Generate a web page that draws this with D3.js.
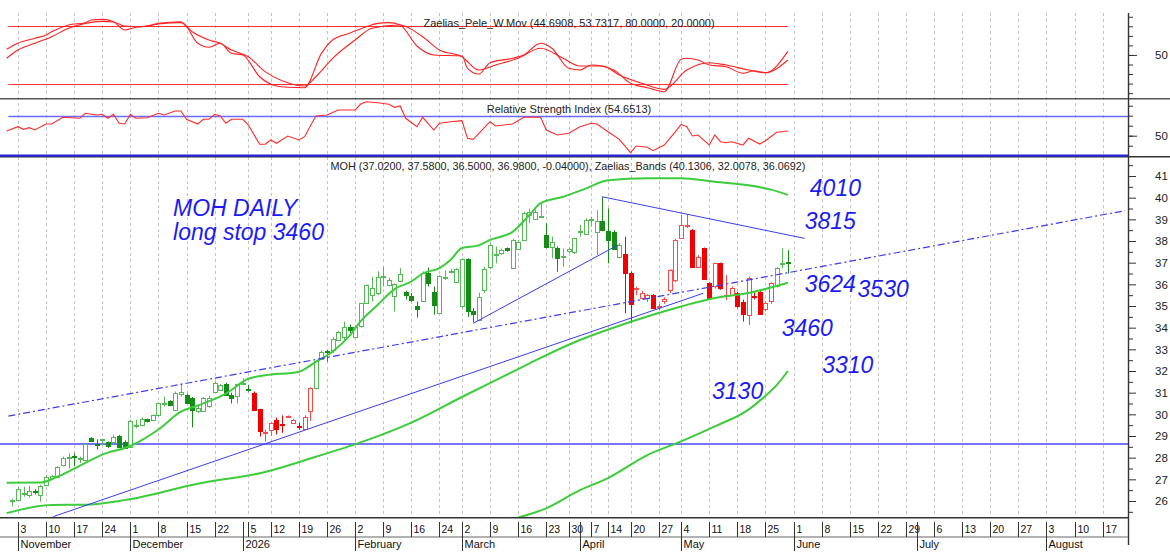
<!DOCTYPE html>
<html>
<head>
<meta charset="utf-8">
<script src="https://cdn.jsdelivr.net/npm/d3@7"></script>
<style>
  body { margin: 0; background: #fff; }
  svg { display: block; }
  text { font-family: "Liberation Sans", Arial, sans-serif; }
</style>
</head>
<body>
<div id="chart"></div>
<script>
// daily bars, index 0 = Oct 31 ... 138 = May 29
const opens  = [26.00,26.05,26.30,26.28,26.45,26.28,26.74,27.05,27.12,27.66,28.00,28.10,27.95,27.90,28.93,28.65,28.80,28.71,28.74,29.00,
  28.74,28.51,29.45,29.50,29.77,29.74,29.97,30.50,30.61,30.20,30.97,30.89,30.74,30.15,30.12,30.36,31.05,31.13,31.38,30.90,
  30.82,31.42,31.15,31.00,30.23,29.15,29.30,29.76,29.55,29.88,29.60,29.48,29.35,30.12,31.20,32.58,32.92,32.97,33.43,33.58,
  34.05,33.60,34.04,35.12,35.55,35.58,36.33,35.97,35.46,36.15,35.66,35.48,35.00,35.23,36.51,35.63,34.69,36.30,36.58,36.12,
  34.97,37.15,34.75,34.35,35.74,36.81,37.37,37.43,37.66,36.74,37.66,38.05,39.20,39.05,39.10,38.28,37.74,37.69,37.27,37.51,
  37.46,38.42,38.32,38.95,38.43,38.92,38.46,38.43,37.28,37.39,36.54,35.80,35.41,35.36,35.50,34.95,35.20,35.74,36.20,38.12,
  38.72,38.51,36.81,37.66,36.05,35.89,36.97,35.48,35.51,35.59,35.20,34.59,35.45,35.66,34.82,35.20,35.92,36.95,37.02];
const highs  = [26.10,26.66,26.66,26.70,26.55,26.75,27.20,27.20,27.60,28.05,28.20,28.20,28.05,28.65,28.95,28.85,28.87,28.75,29.05,29.05,
  28.80,29.75,29.75,29.85,29.80,30.00,30.55,30.82,30.65,31.05,31.43,30.95,30.80,30.43,30.80,30.85,31.50,31.40,31.45,31.00,
  31.40,31.66,31.36,31.05,30.25,29.30,29.62,29.85,29.95,29.95,29.80,29.60,29.95,31.25,32.50,32.95,32.97,33.58,33.85,34.28,
  34.15,34.10,35.15,36.00,36.35,36.60,36.80,36.30,36.05,36.75,35.70,35.60,35.20,36.60,36.78,35.90,36.42,36.64,36.72,36.75,
  37.20,37.20,34.90,35.62,36.80,37.90,37.74,37.65,37.70,38.10,38.05,39.35,39.50,39.45,39.74,38.82,38.20,37.75,37.66,37.70,
  38.15,38.74,39.05,39.12,39.43,40.05,39.50,38.50,37.90,38.20,36.60,35.90,35.70,35.55,35.55,35.10,35.40,36.70,38.10,39.20,
  39.20,38.55,37.35,37.70,36.10,37.00,37.00,36.43,35.90,35.65,35.30,36.35,35.60,35.75,35.20,36.10,36.80,37.66,37.58];
const lows   = [25.75,26.00,26.20,26.15,26.30,25.97,26.70,27.00,27.10,27.60,27.50,27.60,27.75,27.88,28.75,28.38,28.60,28.45,28.70,28.45,
  28.45,28.50,29.35,29.45,29.62,29.70,29.95,30.36,30.40,30.15,30.82,30.50,29.40,30.05,30.10,30.30,31.00,31.10,30.85,30.50,
  30.50,31.35,31.05,30.20,28.97,28.75,29.00,29.07,29.15,29.85,29.55,29.30,29.30,29.70,31.15,32.50,32.43,32.82,33.40,33.35,
  33.75,33.55,34.00,35.10,35.20,35.50,35.90,35.90,34.75,36.10,35.30,35.20,34.46,35.20,35.90,34.60,34.65,36.20,36.50,36.10,
  34.90,34.50,34.25,34.30,35.60,36.70,36.97,37.35,37.50,36.70,37.60,38.00,38.82,39.00,39.05,37.66,37.20,36.58,36.81,37.45,
  37.40,38.20,38.30,38.66,37.35,38.45,36.97,37.60,37.20,34.66,34.20,35.50,35.30,35.20,34.85,34.80,35.10,35.60,36.10,38.10,
  38.60,36.75,36.75,36.20,35.30,35.80,35.75,35.28,35.45,34.90,34.28,34.12,35.30,34.60,34.75,35.10,35.85,36.74,36.50];
const closes = [26.05,26.55,26.35,26.48,26.40,26.70,27.12,27.15,27.58,27.97,28.05,28.05,28.00,28.63,28.77,28.62,28.85,28.51,28.97,28.51,
  28.48,29.71,29.50,29.77,29.66,29.97,30.51,30.52,30.43,31.00,31.05,30.51,30.20,30.28,30.74,30.74,31.46,31.35,30.89,30.78,
  31.38,31.45,31.10,30.23,29.20,29.18,29.60,29.35,29.50,29.92,29.74,29.45,29.90,31.20,32.45,32.90,32.88,33.46,33.81,34.02,
  33.90,34.05,35.12,35.97,35.85,36.32,36.37,36.22,36.00,36.46,35.54,35.28,34.86,36.54,36.05,35.05,36.39,36.35,36.62,36.70,
  37.15,34.74,34.60,35.43,36.70,37.82,37.41,37.58,37.55,38.05,37.97,39.28,39.32,39.35,39.14,37.74,37.97,37.25,37.30,37.62,
  38.12,38.45,38.97,39.00,38.92,38.51,38.05,37.66,37.82,36.51,35.12,35.84,35.62,35.50,34.90,35.00,35.31,36.66,38.05,38.74,
  38.76,36.81,37.28,36.25,35.36,36.97,35.82,35.52,35.82,34.97,34.66,36.28,35.40,34.66,35.12,36.05,36.74,37.00,36.98];
// bars drawn in the red trend colour
const redRuns = [[43, 53], [109, 135]];

// Zaelias bands: [bar, value]
const bandUpper = [[-1,26.84],[5,26.85],[8,27.12],[13,27.76],[16,28.14],[21,28.54],[26,29.3],[30,30.12],[33,30.41],[38,30.96],
  [42,31.64],[45,31.8],[51,31.97],[54,32.42],[57,32.9],[60,33.62],[62,34.3],[65,35.05],[68,35.78],[71,36.13],[73,36.5],
  [76,36.75],[78,37.14],[80,37.68],[83,37.8],[85,38.05],[89,38.42],[92,39.2],[94,39.75],[98,40.04],[102,40.42],[106,40.8],
  [113,40.9],[119,40.9],[125,40.73],[131,40.57],[135,40.37],[138,40.13]];
const bandMiddle = [[-1,25.44],[7,25.82],[13,25.83],[20,26.04],[33,26.8],[45,27.34],[54,28.04],[63,28.8],[71,29.62],[80,30.8],
  [89,31.96],[93,32.48],[101,33.43],[109,34.18],[119,34.98],[125,35.37],[131,35.6],[138,36.07]];
const bandLower = [[88,25.05],[90,25.23],[95,25.66],[101,26.5],[106,27.06],[113,28.12],[119,28.75],[125,29.44],[131,30.22],
  [134,30.85],[136,31.35],[138,32.0]];

// Zaelias_Pele_W.Mov
const wmovFast = [[-1,55.9],[1,62.2],[4,67.4],[6,70.9],[7,74.3],[10,81.4],[13,83.8],[14,86.6],[16,87.3],[18,84.8],[20,76.1],
  [22,79],[24,80.3],[26,83.1],[30,84.8],[31,79.6],[33,62.2],[35,58],[37,62.2],[39,51.7],[41,50],[44,27.2],[47,17.5],[49,16.1],
  [52,15.7],[55,51.7],[57,65.7],[60,72.7],[63,79.6],[65,83.1],[67,83.8],[69,81.4],[72,59.4],[75,50],[80,48.9],[81,36],[83,30],
  [85,41.9],[89,46.5],[91,50],[94,62.2],[96,57],[99,36],[101,34.2],[103,39.5],[107,34.2],[110,20.3],[113,15.7],[116,11.5],
  [119,45.4],[120,46.5],[122,44.7],[124,39.5],[127,37.7],[130,30.8],[132,33.5],[134,31.4],[138,53.73]];
const wmovSlow = [[-1,46.5],[1,55.2],[4,62.2],[7,69.1],[10,77.9],[13,83.1],[16,85.2],[18,84.5],[20,80.3],[23,79.6],[26,82.4],
  [30,83.8],[32,74.3],[35,65.7],[37,62.2],[39,55.2],[42,48.2],[45,32.5],[49,20.9],[52,17.5],[54,27.2],[57,46.5],[61,65.7],
  [64,77.9],[69,81.4],[73,69.1],[76,55.2],[80,48.2],[83,34.2],[86,39.5],[90,46.5],[94,57],[98,46.5],[101,38.4],[105,38.4],
  [108,29],[112,20.3],[116,14],[120,34.2],[124,41.9],[127,39.5],[131,34.2],[134,31.4],[138,44.69]];
const wmovLevels = [80, 20];

// Relative Strength Index
const rsi = [[-1,54.7],[1,59],[2,56.4],[3,58],[4,55.7],[6,61.7],[7,61.7],[9,68.4],[12,67.4],[13,72.4],[15,70.7],[16,71.4],
  [17,67.4],[18,71.4],[19,62.4],[20,61.7],[21,71.4],[22,67.4],[24,68],[26,72.4],[27,70.7],[29,74.7],[30,74.7],[31,66.4],
  [33,61.7],[34,66.4],[35,66.4],[36,71.4],[37,69.7],[38,62.4],[39,66.4],[41,66.4],[42,60.7],[44,41.4],[45,41.4],[46,45.7],
  [47,42.4],[49,49.7],[51,45.7],[52,49],[54,69.7],[56,70.7],[58,75.7],[61,75.7],[62,81.7],[63,84],[65,83],[67,81.4],[68,78.4],
  [69,79.7],[70,67.4],[72,59],[73,68.4],[75,55.7],[76,62.4],[78,64],[80,65],[81,47.4],[82,46.4],[85,64],[86,59.7],[89,61.7],
  [91,68.4],[94,68.4],[95,55.7],[97,50.7],[99,52.4],[101,59],[103,62.4],[104,61.7],[106,54],[108,46.4],[110,33],[111,39.7],
  [113,38.4],[114,35],[116,40.7],[118,54],[119,61.4],[120,59],[121,49.7],[122,50.7],[124,40.7],[125,50.7],[126,44],[127,43],
  [128,44],[130,40.7],[131,47.4],[133,41.7],[134,45],[136,53.4],[138,54.65]];
const rsiLevels = [70, 30];

// hand drawn lines: [bar, price] pairs
const supportLevel = 28.63;
const trendLines = [
  { a: [7.3, 25.28], b: [122.95, 35.59], dash: false },
  { a: [82, 34.2], b: [107.8, 37.82], dash: false },
  { a: [105, 40.04], b: [141, 38.12], dash: false },
  { a: [-0.7, 29.92], b: [198, 39.4], dash: true }
];
const notes = [
  { t: "MOH DAILY", i: 28.6, p: 39.15 },
  { t: "long stop 3460", i: 28.6, p: 38.05 },
  { t: "4010", i: 141.9, p: 40.08 },
  { t: "3815", i: 141.0, p: 38.55 },
  { t: "3624", i: 141.0, p: 35.65 },
  { t: "3530", i: 150.4, p: 35.42 },
  { t: "3460", i: 136.9, p: 33.62 },
  { t: "3310", i: 144.1, p: 31.9 },
  { t: "3130", i: 124.5, p: 30.7 }
];

// date axis
const dayTickIdx = [1,6,11,16,21,26,31,36,42,46,51,56,61,66,71,76,80,85,90,95,99,103,106,110,115,119,124,129,134,
  139,144,149,154,159,164,169,174,179,184,189,194];
const dayTickLabels = ["3","10","17","24","1","8","15","22","5","12","19","26","2","9","16","24","2","9","16","23","30",
  "7","14","20","27","4","11","18","25","1","8","15","22","29","6","13","20","27","3","10","17"];
const monthIdx = [1,21,41,61,80,101,119,139,161,184];
const monthLabels = ["November","December","2026","February","March","April","May","June","July","August"];

const priceTicks = d3.range(26, 42);
const titleW = "Zaelias_Pele_W.Mov (44.6908, 53.7317, 80.0000, 20.0000)";
const titleR = "Relative Strength Index (54.6513)";
const titleP = "MOH (37.0200, 37.5800, 36.5000, 36.9800, -0.04000), Zaelias_Bands (40.1306, 32.0078, 36.0692)";

const width = 1170, height = 552;
const axisX = 1128;
const topY = 13, sep1 = 98.7, sep2 = 156.7, bottomY = 517.7;

const svg = d3.select("#chart").append("svg")
  .attr("width", width)
  .attr("height", height);

const x = d3.scaleLinear().domain([0, 138]).range([12.3, 787.9]);
const yP = d3.scaleLinear().domain([26, 41]).range([501, 176]);
const yW = d3.scaleLinear().domain([20, 80]).range([83.6, 26.3]);
const yR = d3.scaleLinear().domain([30, 70]).range([155.7, 115.7]);
const px = i => Math.round(x(i)) + 0.5;

const defs = svg.append("defs");
function clip(id, y0, y1) {
  defs.append("clipPath").attr("id", id).append("rect")
    .attr("x", 0).attr("y", y0).attr("width", axisX).attr("height", y1 - y0);
}
clip("cW", topY, sep1);
clip("cR", sep1, sep2 + 1);
clip("cP", sep2, bottomY);

// vertical grid at the week ticks
svg.append("g").selectAll("line").data(dayTickIdx).enter().append("line")
  .attr("x1", d => px(d)).attr("x2", d => px(d))
  .attr("y1", topY).attr("y2", bottomY)
  .attr("stroke", "#c4c4c4")
  .attr("stroke-dasharray", "3,3");

// ---- W.Mov panel
const gW = svg.append("g").attr("clip-path", "url(#cW)");
gW.selectAll("line").data(wmovLevels).enter().append("line")
  .attr("x1", x(-0.7)).attr("x2", x(138))
  .attr("y1", d => Math.round(yW(d)) + 0.5).attr("y2", d => Math.round(yW(d)) + 0.5)
  .attr("stroke", "#ff3030");
const lineW = d3.line().x(d => x(d[0])).y(d => yW(d[1])).curve(d3.curveMonotoneX);
[wmovSlow, wmovFast].forEach(s => {
  gW.append("path").attr("d", lineW(s))
    .attr("fill", "none").attr("stroke", "#ff2020").attr("stroke-width", 1.1);
});
svg.append("text").attr("x", 569).attr("y", 27).attr("text-anchor", "middle")
  .attr("font-size", "11px").attr("fill", "#222").text(titleW);

// ---- RSI panel
const gR = svg.append("g").attr("clip-path", "url(#cR)");
gR.append("line").attr("x1", x(-0.7)).attr("x2", axisX)
  .attr("y1", Math.round(yR(70)) + 0.5).attr("y2", Math.round(yR(70)) + 0.5)
  .attr("stroke", "#6b6bff").attr("stroke-width", 1.5);
const lineR = d3.line().x(d => x(d[0])).y(d => yR(d[1]));
gR.append("path").attr("d", lineR(rsi))
  .attr("fill", "none").attr("stroke", "#ff2a2a").attr("stroke-width", 1.1);
svg.append("text").attr("x", 569).attr("y", 113).attr("text-anchor", "middle")
  .attr("font-size", "11px").attr("fill", "#222").text(titleR);

// panel separators
svg.append("line").attr("x1", 0).attr("x2", width).attr("y1", sep1).attr("y2", sep1)
  .attr("stroke", "#555").attr("stroke-width", 1.4);
svg.append("line").attr("x1", 0).attr("x2", width).attr("y1", sep2).attr("y2", sep2)
  .attr("stroke", "#333").attr("stroke-width", 1.4);
svg.append("line").attr("x1", 0).attr("x2", axisX).attr("y1", yR(rsiLevels[1])).attr("y2", yR(rsiLevels[1]))
  .attr("stroke", "#2626d8").attr("stroke-width", 2.2);

// ---- price panel
const gP = svg.append("g").attr("clip-path", "url(#cP)");
gP.append("line").attr("x1", 0).attr("x2", axisX)
  .attr("y1", yP(supportLevel)).attr("y2", yP(supportLevel))
  .attr("stroke", "#4646ff").attr("stroke-width", 1.5);

const bars = opens.map((o, i) => ({
  i: i, o: o, h: highs[i], l: lows[i], c: closes[i],
  red: redRuns.some(r => i >= r[0] && i <= r[1])
}));
function lineColor(d) { return d.red ? "#ff4848" : "#56b856"; }
function fillColor(d) {
  if (d.c >= d.o) return "#fff";
  return d.red ? "#f20000" : "#158c15";
}
function strokeColor(d) {
  if (d.c >= d.o) return lineColor(d);
  return d.red ? "#f20000" : "#158c15";
}

gP.selectAll("line.wick").data(bars).enter().append("line")
  .attr("class", "wick")
  .attr("x1", d => px(d.i)).attr("x2", d => px(d.i))
  .attr("y1", d => yP(d.h)).attr("y2", d => yP(d.l))
  .attr("stroke", d => strokeColor(d));

gP.selectAll("rect.body").data(bars).enter().append("rect")
  .attr("class", "body")
  .attr("x", d => px(d.i) - 2)
  .attr("width", 4)
  .attr("y", d => Math.round(yP(Math.max(d.o, d.c))) + 0.5)
  .attr("height", d => Math.max(1, Math.round(Math.abs(yP(d.o) - yP(d.c)))))
  .attr("fill", d => fillColor(d))
  .attr("stroke", d => strokeColor(d));

const lineP = d3.line().x(d => x(d[0])).y(d => yP(d[1])).curve(d3.curveMonotoneX);
[bandUpper, bandMiddle, bandLower].forEach(s => {
  gP.append("path").attr("d", lineP(s))
    .attr("fill", "none").attr("stroke", "#3ccc3c").attr("stroke-width", 2);
});

gP.selectAll("line.trend").data(trendLines).enter().append("line")
  .attr("class", "trend")
  .attr("x1", d => x(d.a[0])).attr("y1", d => yP(d.a[1]))
  .attr("x2", d => x(d.b[0])).attr("y2", d => yP(d.b[1]))
  .attr("stroke", "#3c3cf0")
  .attr("stroke-width", d => d.dash ? 1.2 : 1)
  .attr("stroke-dasharray", d => d.dash ? "7,3,2,3" : null);

svg.append("text").attr("x", 568).attr("y", 170).attr("text-anchor", "middle")
  .attr("font-size", "10.8px").attr("fill", "#222").text(titleP);

// hand written notes
svg.append("g").selectAll("text").data(notes).enter().append("text")
  .attr("x", d => x(d.i)).attr("y", d => yP(d.p))
  .attr("font-family", "Roboto, 'Liberation Sans', sans-serif")
  .attr("font-size", "23px")
  .attr("font-weight", 300)
  .attr("font-style", "italic")
  .attr("fill", "#1c1cf2")
  .text(d => d.t);

// ---- right axis
svg.append("line").attr("x1", axisX + 0.5).attr("x2", axisX + 0.5).attr("y1", topY).attr("y2", 545)
  .attr("stroke", "#333").attr("stroke-width", 1.4);

function styleAxis(g) {
  g.select(".domain").remove();
  g.selectAll("line").attr("stroke", "#333");
  g.selectAll("text").attr("font-size", "11.5px").attr("fill", "#222")
    .attr("font-family", "Liberation Sans, Arial, sans-serif");
}
svg.append("g").attr("transform", `translate(${axisX},0)`)
  .call(d3.axisRight(yP).tickValues(d3.range(25.5, 42, 1)).tickSize(5).tickFormat(""))
  .call(styleAxis);
svg.append("g").attr("transform", `translate(${axisX},0)`)
  .call(d3.axisRight(yP).tickValues(priceTicks).tickSize(8).tickPadding(19).tickFormat(d3.format("d")))
  .call(styleAxis);
svg.append("g").attr("transform", `translate(${axisX},0)`)
  .call(d3.axisRight(yW).tickValues(d3.range(10, 91, 10)).tickSize(5).tickFormat(""))
  .call(styleAxis);
svg.append("g").attr("transform", `translate(${axisX},0)`)
  .call(d3.axisRight(yW).tickValues([50]).tickSize(9).tickPadding(18).tickFormat(d3.format("d")))
  .call(styleAxis);
svg.append("g").attr("transform", `translate(${axisX},0)`)
  .call(d3.axisRight(yR).tickValues(d3.range(40, 81, 10)).tickSize(5).tickFormat(""))
  .call(styleAxis);
svg.append("g").attr("transform", `translate(${axisX},0)`)
  .call(d3.axisRight(yR).tickValues([50]).tickSize(9).tickPadding(18).tickFormat(d3.format("d")))
  .call(styleAxis);

// ---- date axis
svg.append("line").attr("x1", 0).attr("x2", axisX).attr("y1", bottomY).attr("y2", bottomY)
  .attr("stroke", "#333").attr("stroke-width", 1.6);
svg.append("line").attr("x1", 0).attr("x2", axisX).attr("y1", 537).attr("y2", 537)
  .attr("stroke", "#999").attr("stroke-width", 1.6);

const dates = svg.append("g");
dates.selectAll("line.day").data(dayTickIdx).enter().append("line")
  .attr("class", "day")
  .attr("x1", d => px(d)).attr("x2", d => px(d))
  .attr("y1", 522).attr("y2", 537)
  .attr("stroke", "#333");
dates.selectAll("text.day").data(dayTickIdx).enter().append("text")
  .attr("class", "day")
  .attr("x", d => px(d) + 2).attr("y", 533)
  .attr("font-size", "10.5px").attr("fill", "#111")
  .text((d, k) => dayTickLabels[k]);
dates.selectAll("line.month").data(monthIdx).enter().append("line")
  .attr("class", "month")
  .attr("x1", d => px(d)).attr("x2", d => px(d))
  .attr("y1", 522).attr("y2", 551)
  .attr("stroke", "#333");
dates.selectAll("text.month").data(monthIdx).enter().append("text")
  .attr("class", "month")
  .attr("x", d => px(d) + 2).attr("y", 548)
  .attr("font-size", "11px").attr("fill", "#111")
  .text((d, k) => monthLabels[k]);
</script>
</body>
</html>
